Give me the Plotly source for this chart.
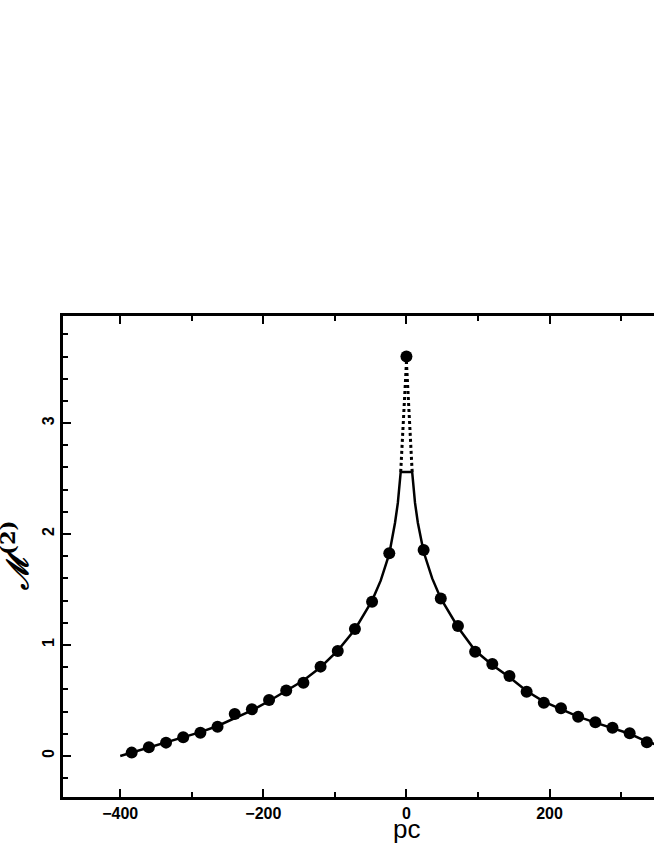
import plotly.graph_objects as go

# measured points (distance in pc, M^(2))
pts_x = [-384, -360, -336, -312, -288, -264, -240, -216, -192, -168, -144, -120, -96, -72, -48, -24,
         0,
         24, 48, 72, 96, 120, 144, 168, 192, 216, 240, 264, 288, 312, 336]
pts_y = [0.03, 0.078, 0.12, 0.168, 0.21, 0.264, 0.378, 0.42, 0.505, 0.59, 0.66, 0.805, 0.946, 1.144, 1.39, 1.826,
         3.6,
         1.856, 1.42, 1.171, 0.94, 0.829, 0.72, 0.579, 0.48, 0.43, 0.354, 0.304, 0.255, 0.204, 0.123]

# model curve (solid)
curve_x = [-400, -384, -360, -336, -312, -288, -264, -240, -216, -192, -168, -144, -120, -96, -72, -48, -36, -24, -16, -12, -8,
           8, 12, 16, 24, 36, 48, 72, 96, 120, 144, 168, 192, 216, 240, 264, 288, 312, 336, 350]
curve_y = [0.0, 0.03, 0.075, 0.12, 0.165, 0.215, 0.27, 0.34, 0.41, 0.495, 0.585, 0.68, 0.80, 0.95, 1.14, 1.40, 1.58, 1.82, 2.10, 2.28, 2.56,
           2.56, 2.28, 2.10, 1.84, 1.60, 1.42, 1.16, 0.95, 0.82, 0.71, 0.585, 0.49, 0.42, 0.355, 0.30, 0.25, 0.20, 0.13, 0.10]

# dotted extension to the central peak
dot_left_x = [-8, 0]
dot_left_y = [2.56, 3.55]
dot_right_x = [8, 0]
dot_right_y = [2.56, 3.55]

x_ticks = [-400, -200, 0, 200]
y_ticks = [0, 1, 2, 3]

fig = go.Figure()
fig.add_trace(go.Scatter(x=dot_left_x, y=dot_left_y, mode="lines",
                         line=dict(color="black", width=3, dash="dot"), showlegend=False))
fig.add_trace(go.Scatter(x=dot_right_x, y=dot_right_y, mode="lines",
                         line=dict(color="black", width=3, dash="dot"), showlegend=False))
fig.add_trace(go.Scatter(x=curve_x, y=curve_y, mode="lines",
                         line=dict(color="black", width=2.5), showlegend=False))
fig.add_trace(go.Scatter(x=pts_x, y=pts_y, mode="markers",
                         marker=dict(color="black", size=12), showlegend=False))

tickfont = dict(family="Liberation Sans", size=16, color="black", weight="bold")

fig.update_layout(
    width=654, height=846,
    margin=dict(l=63, r=0, t=316, b=49),
    paper_bgcolor="white", plot_bgcolor="white",
    xaxis=dict(
        range=[-480, 346], tickvals=x_ticks, ticks="inside", ticklen=8, tickwidth=2,
        tickcolor="black", showline=True, linewidth=2.5, linecolor="black", mirror="ticks",
        showgrid=False, zeroline=False, tickfont=tickfont, automargin=False,
        minor=dict(dtick=100, tick0=0, ticks="inside", ticklen=5, tickwidth=2, tickcolor="black", showgrid=False),
    ),
    yaxis=dict(
        range=[-0.37, 3.965], tickvals=y_ticks, ticks="inside", ticklen=8, tickwidth=2,
        tickcolor="black", showline=True, linewidth=2.5, linecolor="black", mirror=False,
        showgrid=False, zeroline=False, tickfont=tickfont, tickangle=-90, automargin=False,
        minor=dict(dtick=0.2, tick0=0, ticks="inside", ticklen=5, tickwidth=2, tickcolor="black", showgrid=False),
    ),
    annotations=[
        dict(text="pc", x=0, xref="x", y=-0.1015, yref="paper", yanchor="bottom", xanchor="center",
             showarrow=False, font=dict(family="Liberation Sans", size=26, color="black")),
        dict(text="<b><i>ℳ</i><sup>(2)</sup></b>", x=-0.082, xref="paper", y=0.5, yref="paper",
             xanchor="center", yanchor="middle", textangle=-90, showarrow=False,
             font=dict(family="DejaVu Serif", size=30, color="black")),
    ],
)

fig.write_html("out.html",
               config={"displayModeBar": False},
               post_script="document.body.style.margin='0';document.body.style.overflow='hidden';")
